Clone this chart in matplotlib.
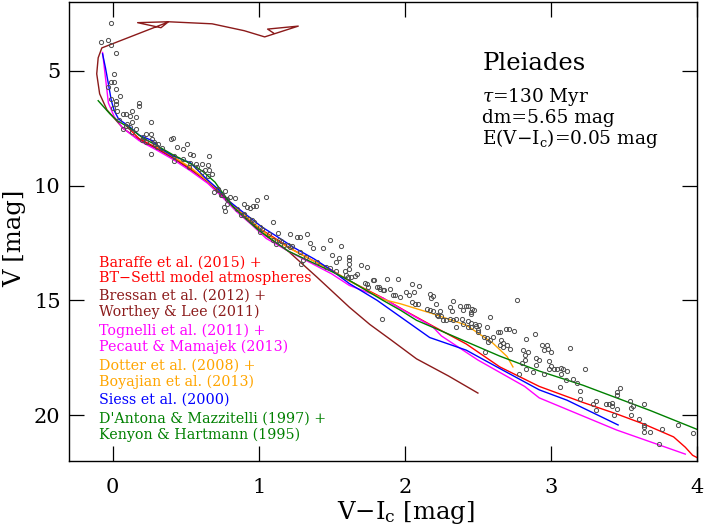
import matplotlib
matplotlib.use("Agg")
import matplotlib.pyplot as plt

plt.rcParams['font.family'] = ['DejaVu Serif']
plt.rcParams['mathtext.fontset'] = 'dejavuserif'

# ---------------- observed Pleiades members ----------------
obs_vi = [-0.01,-0.08,-0.03,-0.01,0.02,0.01,-0.01,0.01,-0.03,0.02,0.05,-0.01,0.02,0.02,0.18,0.18,0.00,0.03,0.07,0.09,
          0.13,0.12,0.16,0.04,0.10,0.13,0.26,0.09,0.07,0.12,0.16,0.13,0.23,0.26,0.21,0.27,0.20,0.23,0.40,0.41,
          0.28,0.29,0.31,0.30,0.34,0.26,0.44,0.51,0.48,0.53,0.55,0.42,0.66,0.48,0.53,0.57,0.61,0.65,0.58,0.63,
          0.66,0.68,0.65,0.61,0.52,0.42,
          0.72,0.77,0.74,0.69,0.80,0.84,0.78,0.76,0.77,0.90,0.92,0.94,0.96,0.98,0.99,1.05,0.90,0.93,0.95,0.88,
          1.10,1.01,1.13,1.21,1.26,1.28,1.33,1.35,1.37,1.21,1.23,1.12,1.10,
          0.75,0.72,0.78,0.85,0.90,0.97,1.02,1.07,1.15,1.20,1.28,1.32,1.01,1.17,1.40,1.46,1.49,
          1.44,1.49,1.50,1.53,1.55,1.62,1.62,1.62,1.62,1.59,1.53,1.67,1.70,1.74,1.60,1.61,1.63,1.66,1.73,1.74,
          1.75,1.78,1.82,1.83,1.86,1.88,1.90,1.92,1.95,1.97,2.01,1.29,1.30,1.14,1.56,1.79,2.05,2.10,2.06,2.17,
          2.21,2.18,2.33,2.31,2.38,2.42,2.46,2.40,2.24,2.23,2.26,2.33,2.35,2.40,2.45,2.48,2.51,2.50,2.56,2.58,
          2.64,2.69,2.54,2.60,1.84,1.93,1.81,1.85,2.03,
          2.19,2.05,2.07,2.09,2.77,2.15,2.17,2.19,2.32,2.43,2.45,2.45,2.47,2.22,2.25,2.28,2.31,2.39,2.43,2.45,
          2.49,2.43,2.35,2.50,2.65,2.71,2.75,2.83,2.89,2.56,2.58,2.57,2.66,2.67,2.70,2.65,2.72,2.67,2.55,2.81,
          2.84,2.82,2.94,2.97,2.95,3.00,2.90,2.92,2.82,2.80,2.83,2.90,2.99,2.99,3.02,3.04,2.78,2.88,2.95,
          2.98,3.13,3.00,3.07,3.08,3.11,3.07,3.23,3.10,3.15,3.18,3.06,3.20,3.47,3.45,3.45,3.20,3.31,3.29,3.38,
          3.40,3.42,3.42,3.54,3.64,3.56,3.55,3.31,3.45,3.43,3.55,3.60,3.64,3.64,3.64,3.68,3.76,3.87,3.97,3.74]
obs_v = [2.90,3.73,3.65,3.88,4.20,5.12,5.48,5.48,5.70,5.80,6.09,6.23,6.33,6.45,6.38,6.52,6.60,6.74,6.86,6.86,
         6.74,6.96,7.00,7.14,7.32,7.25,7.25,7.39,7.54,7.46,7.54,7.65,7.75,7.75,7.87,7.97,8.01,8.09,7.97,7.94,
         8.12,8.19,8.19,8.33,8.38,8.62,8.30,8.19,8.40,8.62,8.65,8.70,8.70,8.84,9.03,9.06,9.06,9.10,9.20,9.32,
         9.32,9.49,9.57,9.42,9.20,8.91,
         10.14,10.22,10.43,10.29,10.51,10.53,10.80,10.94,11.09,10.80,10.94,10.97,10.91,10.87,10.62,10.51,11.23,11.45,11.52,11.30,
         11.59,11.81,12.07,12.10,12.22,12.25,12.13,12.51,12.71,12.68,12.65,12.54,12.39,
         10.40,10.20,10.60,11.00,11.30,11.60,11.90,12.10,12.40,12.60,12.90,13.10,12.03,12.60,13.33,13.55,13.58,
         12.71,12.36,13.04,13.33,13.14,13.09,13.26,13.43,13.62,13.70,13.70,13.84,13.48,13.55,13.90,13.98,13.98,13.95,14.25,14.30,
         14.42,14.13,14.42,14.49,14.57,14.06,14.49,14.78,14.06,14.86,14.64,13.41,13.26,12.39,12.62,14.10,14.28,14.39,14.64,14.74,
         15.17,14.88,15.03,15.29,15.26,15.26,15.36,15.43,15.46,15.70,15.87,15.87,15.80,16.01,16.16,16.01,16.09,16.30,16.16,15.72,
         16.38,16.23,16.59,16.59,15.80,14.78,14.42,14.57,14.78,
         14.83,15.07,15.14,15.17,15.00,15.36,15.43,15.46,15.46,15.26,15.51,15.61,15.41,15.65,15.70,15.87,15.80,15.80,15.90,15.99,
         16.13,16.16,16.16,16.38,16.38,16.23,16.33,16.67,16.48,16.62,16.71,16.81,16.71,16.86,16.96,16.96,17.10,17.03,17.25,17.17,
         17.25,17.39,16.93,16.96,17.17,17.25,17.53,17.61,17.61,17.75,17.97,17.82,17.65,17.97,17.97,17.97,18.22,18.11,18.19,
         17.10,17.06,17.87,17.93,18.01,18.07,18.22,17.97,18.48,18.43,18.58,18.77,18.94,18.80,18.99,19.13,19.32,19.38,19.52,19.52,
         19.52,19.46,19.61,19.39,19.52,19.61,19.71,19.78,19.74,20.00,20.00,20.19,20.43,20.53,20.72,20.72,20.62,20.43,20.77,21.26]

# ---------------- model isochrones ----------------
baraffe_vi = [0.10,0.18,0.30,0.41,0.53,0.62,0.70,0.80,0.90,1.00,1.10,1.22,1.35,1.49,1.62,1.85,2.00,2.20,2.42,
              2.65,2.92,3.22,3.45,3.64,3.84,3.92,3.97,4.00]
baraffe_v = [7.45,7.95,8.35,8.75,9.25,9.65,10.10,10.80,11.35,11.85,12.25,12.75,13.20,13.65,14.15,14.90,15.45,16.15,16.90,
             17.90,18.75,19.45,19.95,20.40,20.95,21.40,21.75,21.85]

bressan_vi = [1.10,1.06,1.27,1.04,0.90,0.68,0.38,0.17,0.33,0.377,-0.075,-0.10,-0.11,-0.09,-0.04,0.07,0.18,0.30,0.41,
              0.53,0.65,0.75,0.85,0.95,1.05,1.20,1.40,1.62,1.76,1.90,2.08,2.30,2.50]
bressan_v = [3.35,3.18,3.05,3.52,3.25,2.95,2.86,2.90,3.12,2.88,4.00,4.43,5.13,6.00,6.70,7.50,8.00,8.40,8.80,
             9.30,9.85,10.45,11.05,11.60,12.20,12.85,14.00,15.30,16.05,16.70,17.55,18.30,19.04]

tognelli_vi = [-0.07,-0.05,-0.03,0.01,0.07,0.18,0.30,0.41,0.53,0.65,0.75,0.85,0.95,1.05,1.20,1.35,1.50,1.62,1.85,
               1.97,2.19,2.25,2.50,2.82,2.92,3.45,3.92]
tognelli_v = [4.20,5.30,6.40,7.00,7.50,8.04,8.45,8.85,9.35,9.90,10.50,11.15,11.70,12.30,12.85,13.35,13.85,14.35,14.90,
              15.36,16.15,16.55,17.60,18.75,19.25,20.65,21.70]

dotter_vi = [0.30,0.41,0.53,0.65,0.75,0.85,0.95,1.05,1.20,1.35,1.50,1.62,1.75,1.85,1.97,2.19,2.42,2.60,2.70,2.74]
dotter_v = [8.30,8.72,9.20,9.80,10.35,11.00,11.55,12.10,12.70,13.20,13.70,14.15,14.60,14.96,15.15,15.58,16.08,16.85,17.45,17.90]

siess_vi = [-0.07,-0.05,-0.03,-0.01,0.01,0.04,0.12,0.18,0.27,0.33,0.41,0.53,0.64,0.72,0.80,0.92,1.02,1.12,1.24,
            1.38,1.50,1.62,1.81,1.97,2.17,2.42,2.65,2.92,3.11,3.46]
siess_v = [4.26,4.87,5.57,6.30,6.74,7.10,7.46,7.80,8.04,8.40,8.70,9.00,9.70,10.15,10.70,11.30,11.80,12.20,12.70,
           13.20,13.70,14.27,15.00,15.72,16.62,17.17,17.97,18.90,19.35,20.43]

dantona_vi = [-0.10,-0.02,0.03,0.12,0.20,0.30,0.41,0.55,0.62,0.70,0.75,0.82,0.92,1.00,1.10,1.20,1.35,1.50,1.62,
              1.85,1.97,2.08,2.31,2.65,2.92,3.22,3.68,4.00]
dantona_v = [6.30,6.87,7.17,7.50,7.90,8.25,8.65,9.10,9.40,9.85,10.30,10.90,11.50,11.95,12.40,12.85,13.30,13.75,14.13,
             15.00,15.43,15.87,16.50,17.43,18.08,18.70,19.80,20.62]

models = [
    ("Baraffe et al. (2015) +\nBT\u2212Settl model atmospheres", "#ff0000", baraffe_vi, baraffe_v),
    ("Bressan et al. (2012) +\nWorthey & Lee (2011)", "#8b1a1a", bressan_vi, bressan_v),
    ("Tognelli et al. (2011) +\nPecaut & Mamajek (2013)", "#ff00ff", tognelli_vi, tognelli_v),
    ("Dotter et al. (2008) +\nBoyajian et al. (2013)", "#ffa500", dotter_vi, dotter_v),
    ("Siess et al. (2000)", "#0000ff", siess_vi, siess_v),
    ("D'Antona & Mazzitelli (1997) +\nKenyon & Hartmann (1995)", "#008000", dantona_vi, dantona_v),
]

fig = plt.figure(figsize=(7.06, 5.30), dpi=100)
ax = fig.add_axes([0.0977, 0.1302, 0.8895, 0.8660])

for label, col, xv, yv in models:
    ax.plot(xv, yv, color=col, lw=1.0, zorder=2)

ax.plot(obs_vi, obs_v, 'o', ms=3.0, mfc='none', mec='0.3', mew=0.7, zorder=3)

ax.set_xlim(-0.30, 4.0)
ax.set_ylim(22.0, 2.0)
ax.set_xticks([0, 1, 2, 3, 4])
ax.set_yticks([5, 10, 15, 20])
ax.tick_params(direction='in', length=11, width=0.9, top=True, right=True, labelsize=15)
ax.tick_params(axis='x', pad=12)
ax.tick_params(axis='y', pad=6)
for s in ax.spines.values():
    s.set_linewidth(1.0)

ax.set_xlabel("V$-$I$_{\\rm c}$ [mag]", fontsize=17.5, va='center')
ax.xaxis.set_label_coords(0.537, -0.112)
ax.set_ylabel("V [mag]", fontsize=17.5, va='center')
ax.yaxis.set_label_coords(-0.086, 0.486)

# legend as coloured text lines (block centres in pixel rows of the reference)
ypos = [270.5, 304.2, 338.7, 373.8, 400.0, 426.7]
for (label, col, _, _), yp in zip(models, ypos):
    ax.text(0.048, 1 - (yp - 2) / 459.0, label, transform=ax.transAxes, color=col,
            fontsize=10.3, va='center', ha='left', linespacing=1.18)

ax.text(0.658, 1 - (63 - 2) / 459.0, "Pleiades", transform=ax.transAxes, fontsize=17.5, va='center')
ax.text(0.658, 1 - (97 - 2) / 459.0, "$\\tau$=130 Myr", transform=ax.transAxes, fontsize=13.3, va='center')
ax.text(0.658, 1 - (118 - 2) / 459.0, "dm=5.65 mag", transform=ax.transAxes, fontsize=13.3, va='center')
ax.text(0.658, 1 - (138 - 2) / 459.0, "E(V$-$I$_{\\rm c}$)=0.05 mag", transform=ax.transAxes, fontsize=13.3, va='center')

fig.savefig("out.png", dpi=100)
